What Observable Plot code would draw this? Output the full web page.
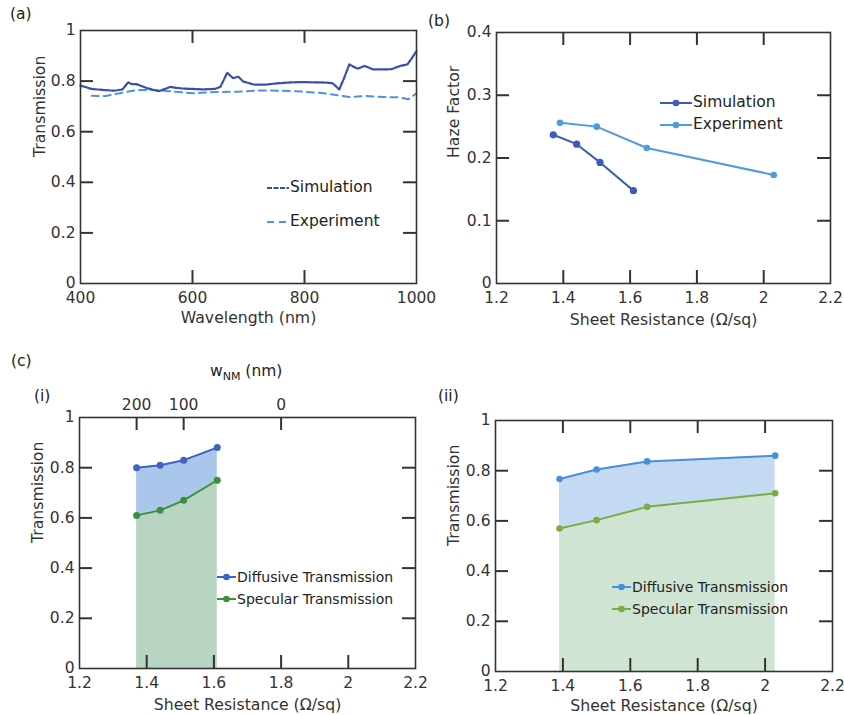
<!DOCTYPE html>
<html><head><meta charset="utf-8">
<script src="https://cdn.jsdelivr.net/npm/d3@7"></script>
<script src="https://cdn.jsdelivr.net/npm/@observablehq/plot@0.6"></script>
<style>
body{margin:0;background:#fff;font-family:"DejaVu Sans",Verdana,sans-serif;color:#333}
#root{position:relative;width:844px;height:715px;overflow:hidden;background:#fff}
.panel{position:absolute}
.panel svg{overflow:visible}
.lbl{position:absolute;font-size:15.5px;color:#222;white-space:nowrap;line-height:1}
.leg{position:absolute;display:flex;align-items:center;white-space:nowrap;color:#222;line-height:1}
.leg svg{display:block}
</style></head><body><div id="root"></div>
<script>
// ---------- Data ----------
// (a) Transmission vs wavelength
const simWavelength = [400,420,440,460,475,485,492,500,520,540,560,580,600,620,640,650,662,672,682,690,710,730,750,775,800,820,840,850,862,870,880,895,907,923,940,955,971,984,1000];
const simTransmission = [0.782,0.769,0.765,0.762,0.767,0.795,0.788,0.788,0.771,0.760,0.777,0.771,0.769,0.767,0.769,0.778,0.833,0.812,0.817,0.799,0.786,0.786,0.791,0.795,0.796,0.795,0.794,0.792,0.767,0.808,0.866,0.849,0.860,0.846,0.846,0.847,0.860,0.866,0.918];
const expWavelength = [420,445,470,500,530,560,600,640,680,720,760,800,830,860,880,910,940,970,985,1000];
const expTransmission = [0.742,0.741,0.752,0.765,0.765,0.760,0.752,0.757,0.758,0.763,0.762,0.758,0.753,0.744,0.737,0.741,0.737,0.736,0.728,0.752];

// (b) Haze factor vs sheet resistance
const hazeSimR = [1.37,1.44,1.51,1.61];
const hazeSim = [0.237,0.222,0.193,0.148];
const hazeExpR = [1.39,1.50,1.65,2.03];
const hazeExp = [0.256,0.250,0.216,0.173];

// (c)(i) simulation
const ciR = [1.37,1.44,1.51,1.61];
const ciDiffusive = [0.800,0.810,0.830,0.880];
const ciSpecular = [0.610,0.630,0.670,0.750];
const wnmTickR = [1.37,1.51,1.8];
const wnmTickLabels = ["200","100","0"];

// (c)(ii) experiment
const ciiR = [1.39,1.50,1.65,2.03];
const ciiDiffusive = [0.767,0.805,0.837,0.860];
const ciiSpecular = [0.570,0.603,0.656,0.710];

// tick values
const wlTicks = [400,600,800,1000];
const transTicks = [0,0.2,0.4,0.6,0.8,1];
const rTicks = [1.2,1.4,1.6,1.8,2,2.2];
const hazeTicks = [0,0.1,0.2,0.3,0.4];

// ---------- Helpers ----------
const FONT = '"DejaVu Sans", Verdana, sans-serif';
const INK = "#333";
const fmt = d => String(+(+d).toFixed(3));
const root = document.getElementById("root");
const zip = (xs, ys) => xs.map((x, i) => ({x, y: ys[i]}));

function panel(o) {
  const iw = o.width - o.ml - o.mr, ih = o.height - o.mt - o.mb, T = 13;
  const inner = a => a.slice(1, -1);
  const marks = [
    ...o.marks,
    Plot.frame({stroke: INK, strokeWidth: 1.6}),
    Plot.tickX(inner(o.xTicks), {x: d => d, insetTop: ih - T, stroke: INK, strokeWidth: 2}),
    Plot.tickX(o.topAxis ? o.topAxis.pos : inner(o.xTicks), {x: d => d, insetBottom: ih - T, stroke: INK, strokeWidth: 2}),
    Plot.tickY(inner(o.yTicks), {y: d => d, insetRight: iw - T, stroke: INK, strokeWidth: 2}),
    Plot.tickY(inner(o.yTicks), {y: d => d, insetLeft: iw - T, stroke: INK, strokeWidth: 2}),
    Plot.axisX(o.xTicks, {tickSize: 0, tickPadding: 8, tickFormat: fmt, label: null}),
    Plot.axisY(o.yTicks, {tickSize: 0, tickPadding: 5, tickFormat: fmt, label: null}),
    Plot.text([o.xlabel], {frameAnchor: "bottom", dy: o.xdy, text: d => d, fontSize: 15.7, fill: INK}),
    Plot.text([o.ylabel], {frameAnchor: "left", dx: o.ydx, rotate: -90, text: d => d, fontSize: 15.7, fill: INK})
  ];
  if (o.topAxis) {
    const m = new Map(o.topAxis.pos.map((p, i) => [p, o.topAxis.labels[i]]));
    marks.push(Plot.axisX(o.topAxis.pos, {anchor: "top", tickSize: 0, tickPadding: 8, tickFormat: d => m.get(d), label: null}));
  }
  const svg = Plot.plot({
    width: o.width, height: o.height,
    marginLeft: o.ml, marginRight: o.mr, marginTop: o.mt, marginBottom: o.mb,
    x: {domain: o.xDomain}, y: {domain: o.yDomain},
    style: {fontFamily: FONT, fontSize: "15.5px", color: INK, background: "transparent", overflow: "visible"},
    marks
  });
  const div = document.createElement("div");
  div.className = "panel";
  div.style.left = o.left + "px";
  div.style.top = o.top + "px";
  div.appendChild(svg);
  root.appendChild(div);
}

function label(text, x, y, html) {
  const d = document.createElement("div");
  d.className = "lbl";
  if (html) d.innerHTML = text; else d.textContent = text;
  d.style.left = x + "px";
  d.style.top = y + "px";
  root.appendChild(d);
  return d;
}

function legendItem(x, yc, len, item, fontSize) {
  const d = document.createElement("div");
  d.className = "leg";
  d.style.left = x + "px";
  d.style.top = (yc - 10) + "px";
  d.style.height = "20px";
  d.style.fontSize = fontSize + "px";
  const ns = "http://www.w3.org/2000/svg";
  const s = document.createElementNS(ns, "svg");
  s.setAttribute("width", len); s.setAttribute("height", 20);
  const l = document.createElementNS(ns, "line");
  l.setAttribute("x1", 0); l.setAttribute("x2", len); l.setAttribute("y1", 10); l.setAttribute("y2", 10);
  l.setAttribute("stroke", item.color); l.setAttribute("stroke-width", item.width || 2);
  if (item.dash) l.setAttribute("stroke-dasharray", item.dash);
  s.appendChild(l);
  if (item.dot) {
    const c = document.createElementNS(ns, "circle");
    c.setAttribute("cx", len / 2); c.setAttribute("cy", 10); c.setAttribute("r", 3.3); c.setAttribute("fill", item.color);
    s.appendChild(c);
  }
  d.appendChild(s);
  const t = document.createElement("span");
  t.textContent = item.label;
  t.style.marginLeft = "1px";
  d.appendChild(t);
  root.appendChild(d);
}

// ---------- Panel (a) ----------
const cSimA = "#3a4cae", cExpA = "#4a94e0";
panel({
  left: 0, top: 0, width: 420, height: 330, ml: 80, mr: 4, mt: 30, mb: 47,
  xDomain: [400, 1000], yDomain: [0, 1], xTicks: wlTicks, yTicks: transTicks,
  xlabel: "Wavelength (nm)", ylabel: "Transmission", xdy: 39, ydx: -41,
  marks: [
    Plot.line(zip(expWavelength, expTransmission), {x: "x", y: "y", stroke: cExpA, strokeWidth: 2, strokeDasharray: "7,5"}),
    Plot.line(zip(simWavelength, simTransmission), {x: "x", y: "y", stroke: cSimA, strokeWidth: 2.2, strokeDasharray: "5,1.5"})
  ]
});
legendItem(267, 188, 22, {label: "Simulation", color: cSimA, dash: "5,1.5", width: 2.2}, 15.5);
legendItem(267, 222, 22, {label: "Experiment", color: cExpA, dash: "7,5"}, 15.5);

// ---------- Panel (b) ----------
const cSimB = "#3d5cb8", cExpB = "#4c9be3";
panel({
  left: 420, top: 0, width: 424, height: 330, ml: 76, mr: 14, mt: 32, mb: 47,
  xDomain: [1.2, 2.2], yDomain: [0, 0.4], xTicks: rTicks, yTicks: hazeTicks,
  xlabel: "Sheet Resistance (Ω/sq)", ylabel: "Haze Factor", xdy: 41, ydx: -43,
  marks: [
    Plot.line(zip(hazeExpR, hazeExp), {x: "x", y: "y", stroke: cExpB, strokeWidth: 2}),
    Plot.dot(zip(hazeExpR, hazeExp), {x: "x", y: "y", fill: cExpB, r: 3.3}),
    Plot.line(zip(hazeSimR, hazeSim), {x: "x", y: "y", stroke: cSimB, strokeWidth: 2}),
    Plot.dot(zip(hazeSimR, hazeSim), {x: "x", y: "y", fill: cSimB, r: 3.6})
  ]
});
legendItem(660, 103, 32, {label: "Simulation", color: cSimB, dot: true}, 15.5);
legendItem(660, 125, 32, {label: "Experiment", color: cExpB, dot: true}, 15.5);

// ---------- Panel (c)(i) ----------
const cDiffI = "#3e62c6", cSpecI = "#3d8f3d", fDiffI = "#aac6ea", fSpecI = "#b7d5c2";
const rowsI = ciR.map((r, i) => ({r, diff: ciDiffusive[i], spec: ciSpecular[i]}));
panel({
  left: 0, top: 340, width: 420, height: 375, ml: 79, mr: 5, mt: 77, mb: 47,
  xDomain: [1.2, 2.2], yDomain: [0, 1], xTicks: rTicks, yTicks: transTicks,
  xlabel: "Sheet Resistance (Ω/sq)", ylabel: "Transmission", xdy: 41, ydx: -42,
  topAxis: {pos: wnmTickR, labels: wnmTickLabels},
  marks: [
    Plot.areaY(rowsI, {x: "r", y1: "spec", y2: "diff", fill: fDiffI}),
    Plot.areaY(rowsI, {x: "r", y: "spec", fill: fSpecI}),
    Plot.line(rowsI, {x: "r", y: "diff", stroke: cDiffI, strokeWidth: 2}),
    Plot.dot(rowsI, {x: "r", y: "diff", fill: cDiffI, r: 3.5}),
    Plot.line(rowsI, {x: "r", y: "spec", stroke: cSpecI, strokeWidth: 2}),
    Plot.dot(rowsI, {x: "r", y: "spec", fill: cSpecI, r: 3.5})
  ]
});
legendItem(217, 577, 19, {label: "Diffusive Transmission", color: cDiffI, dot: true}, 14);
legendItem(217, 599, 19, {label: "Specular Transmission", color: cSpecI, dot: true}, 14);

// ---------- Panel (c)(ii) ----------
const cDiffII = "#4a8fdc", cSpecII = "#78ad42", fDiffII = "#c4d9f2", fSpecII = "#d0e4d4";
const rowsII = ciiR.map((r, i) => ({r, diff: ciiDiffusive[i], spec: ciiSpecular[i]}));
panel({
  left: 420, top: 340, width: 424, height: 375, ml: 75, mr: 12, mt: 80, mb: 44,
  xDomain: [1.2, 2.2], yDomain: [0, 1], xTicks: rTicks, yTicks: transTicks,
  xlabel: "Sheet Resistance (Ω/sq)", ylabel: "Transmission", xdy: 39, ydx: -42,
  marks: [
    Plot.areaY(rowsII, {x: "r", y1: "spec", y2: "diff", fill: fDiffII}),
    Plot.areaY(rowsII, {x: "r", y: "spec", fill: fSpecII}),
    Plot.line(rowsII, {x: "r", y: "diff", stroke: cDiffII, strokeWidth: 2}),
    Plot.dot(rowsII, {x: "r", y: "diff", fill: cDiffII, r: 3.3}),
    Plot.line(rowsII, {x: "r", y: "spec", stroke: cSpecII, strokeWidth: 2}),
    Plot.dot(rowsII, {x: "r", y: "spec", fill: cSpecII, r: 3.3})
  ]
});
legendItem(612, 587, 19, {label: "Diffusive Transmission", color: cDiffII, dot: true}, 14);
legendItem(612, 609, 19, {label: "Specular Transmission", color: cSpecII, dot: true}, 14);

// ---------- Panel labels ----------
label("(a)", 10, 7);
label("(b)", 428, 14);
label("(c)", 11, 354);
label("(i)", 34, 389);
label("(ii)", 438, 389);
const w = label("w<sub style=\"font-size:11px;vertical-align:-4px\">NM</sub> (nm)", 0, 364, true);
w.style.left = (246 - w.offsetWidth / 2) + "px";
</script>
</body></html>
